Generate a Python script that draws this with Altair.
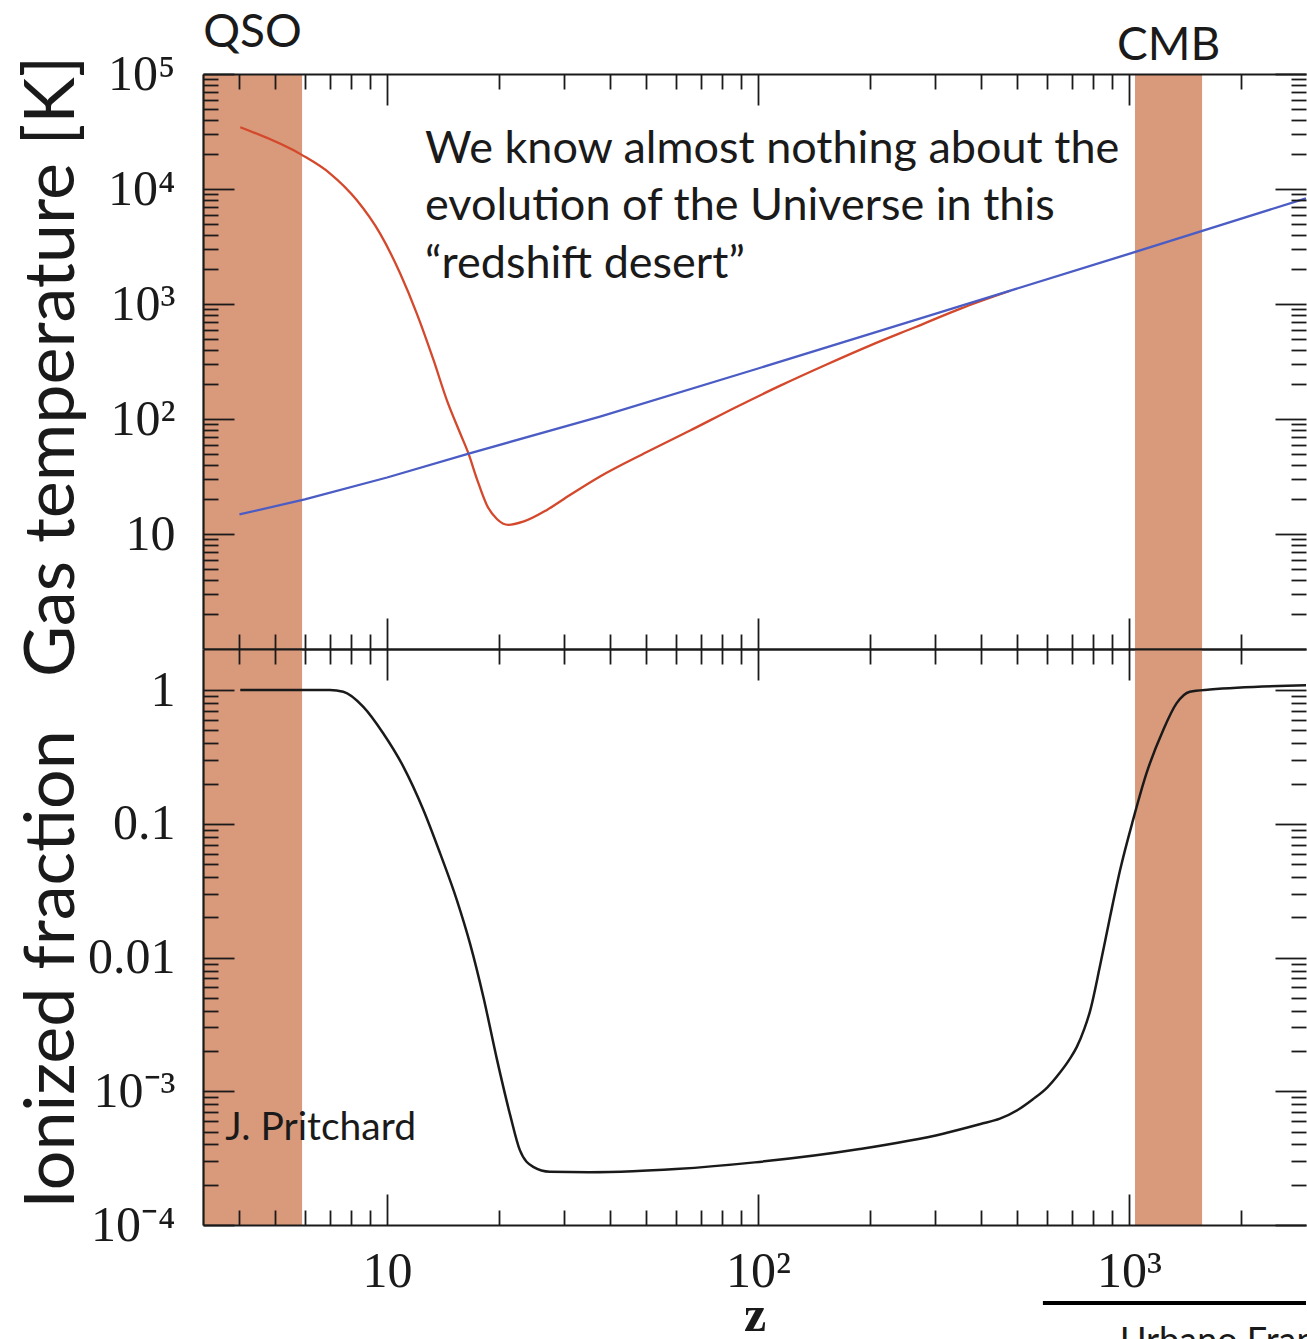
import altair as alt
import pandas as pd

# ---------------- data ----------------
band_label = ["QSO", "CMB"]
band_start = [3.19, 1038]
band_end = [5.9, 1574]

tgas_z = [4.02, 5.89, 7.01, 8.28, 9.57, 10.84, 12.02, 13.34, 14.49, 15.74, 16.56,
          17.46, 18.58, 19.77, 21.23, 23.28, 26.98, 31.12, 37.5, 50.0, 65.6, 86.9,
          114.8, 152, 200.9, 266, 351.6, 478.6]
tgas_T = [34400, 19800, 13700, 8020, 4110, 1850, 830, 326, 146, 75.2, 50.4,
          30.2, 17.8, 13.5, 12.0, 12.8, 16.2, 21.8, 31.6, 51.3, 79.4, 126,
          195, 295, 437, 631, 912, 1303]

tcmb_z = [4.0, 6.0, 10, 16.6, 37.5, 100, 300, 1000, 3000]
tcmb_T = [14.8, 20, 31, 50, 105, 275, 820, 2730, 8300]

xe_z = [4.02, 7.01, 7.62, 8.63, 9.77, 11.07, 12.53, 13.90, 15.42, 16.75, 18.20,
        19.77, 21.48, 22.80, 24.77, 27.48, 35.0, 46.0, 60.0, 97.9, 187.9, 315.5,
        398, 448.7, 501, 550.8, 602.6, 651.6, 691.8, 722.8, 758.6, 785.2, 835.6,
        889.2, 946.2, 1025.6, 1114.3, 1236, 1343, 1459, 1652, 3000]
xe_v = [1.0, 1.0, 0.973, 0.750, 0.474, 0.267, 0.127, 0.0601, 0.0269, 0.0126, 0.00501,
        0.00174, 0.000661, 0.000363, 0.000272, 0.000250, 0.000248, 0.000252, 0.000262,
        0.000294, 0.000370, 0.000482, 0.000569, 0.000624, 0.000724, 0.000871, 0.00107,
        0.00138, 0.00174, 0.00214, 0.00295, 0.00398, 0.00871,
        0.0202, 0.0451, 0.107, 0.238, 0.502, 0.796, 0.973, 1.01, 1.086]

x_major = [10, 100, 1000]
x_minor = [4, 5, 6, 7, 8, 9, 20, 30, 40, 50, 60, 70, 80, 90,
           200, 300, 400, 500, 600, 700, 800, 900, 2000]
t_major = [10, 100, 1000, 10000, 100000]
t_minor = [k * 10 ** e for e in range(0, 5) for k in range(2, 10)]
f_major = [0.0001, 0.001, 0.01, 0.1, 1]
f_minor = [k * 10.0 ** e for e in range(-4, 0) for k in range(2, 10)]

annotation_lines = ["We know almost nothing about the",
                    "evolution of the Universe in this",
                    "\u201credshift desert\u201d"]

# ---------------- tables ----------------
bands = pd.DataFrame({"label": band_label, "z0": band_start, "z1": band_end})
tgas = pd.DataFrame({"z": tgas_z, "T": tgas_T})
tcmb = pd.DataFrame({"z": tcmb_z, "T": tcmb_T})
xe = pd.DataFrame({"z": xe_z, "xe": xe_v})

BAND = "#d99a7b"
RED = "#d4482c"
BLUE = "#4b5cc4"
INK = "#1a1a1a"
MAJ, MIN = 31, 15

xs = alt.Scale(type="log", domain=[3.19, 3000], nice=False)
ts = alt.Scale(type="log", domain=[1, 100000], nice=False)
fs = alt.Scale(type="log", domain=[0.0001, 2.03], nice=False)

LABEL_STYLE = dict(labelFont="Liberation Serif", labelFontSize=50, labelColor=INK)


def ax(orient, values, size, **kw):
    """Inward-pointing ticks: the axis is shifted inside by its tick length."""
    opts = dict(orient=orient, values=values, tickSize=size, offset=-size,
                domain=False, grid=False, ticks=True, tickColor=INK, tickWidth=1.8,
                labels=False, title=None, zindex=1)
    opts.update(kw)
    return alt.Axis(**opts)


def frame(orient):
    """Frame edge drawn as an axis domain line (no right edge: it lies off the canvas)."""
    return alt.Axis(orient=orient, domain=True, domainColor=INK, domainWidth=2.2,
                    ticks=False, labels=False, grid=False, title=None, zindex=1)


W, H1, H2 = 1103, 575, 576

# ---------------- top panel: gas temperature ----------------
t_label = ("datum.value == 10 ? '10' : datum.value == 100 ? '10\u00b2' : "
           "datum.value == 1000 ? '10\u00b3' : datum.value == 10000 ? '10\u2074' : '10\u2075'")

top_band = alt.Chart(bands).mark_rect(color=BAND).encode(
    x=alt.X("z0:Q", scale=xs, axis=ax("bottom", x_major, MAJ)),
    x2="z1:Q",
)
top_red = alt.Chart(tgas).mark_line(color=RED, strokeWidth=2.3, interpolate="monotone").encode(
    x=alt.X("z:Q", scale=xs, axis=ax("bottom", x_minor, MIN)),
    y=alt.Y("T:Q", scale=ts, axis=ax(
        "left", t_major, MAJ, labels=True, labelPadding=28, labelExpr=t_label,
        title="Gas temperature [K]", titleFont="Lato", titleFontSize=70,
        titleFontWeight="normal", titleColor=INK, titleX=-161, titleY=292,
        titleBaseline="alphabetic", titleAlign="center", **LABEL_STYLE)),
)
top_blue = alt.Chart(tcmb).mark_line(color=BLUE, strokeWidth=2.3).encode(
    x=alt.X("z:Q", scale=xs, axis=ax("top", x_major, MAJ)),
    y=alt.Y("T:Q", scale=ts, axis=ax("left", t_minor, MIN)),
)
top_c1 = alt.Chart(tcmb).mark_line(opacity=0).encode(
    x=alt.X("z:Q", scale=xs, axis=ax("top", x_minor, MIN)),
    y=alt.Y("T:Q", scale=ts, axis=ax("right", t_major, MAJ)),
)
top_c2 = alt.Chart(tcmb).mark_line(opacity=0).encode(
    x=alt.X("z:Q", scale=xs, axis=frame("top")),
    y=alt.Y("T:Q", scale=ts, axis=ax("right", t_minor, MIN)),
)
top_c3 = alt.Chart(tcmb).mark_line(opacity=0).encode(
    x=alt.X("z:Q", scale=xs, axis=frame("bottom")),
    y=alt.Y("T:Q", scale=ts, axis=frame("left")),
)
ann = pd.DataFrame({"line": annotation_lines, "z": [12.66] * 3, "T": [16830, 5370, 1683]})
top_text = alt.Chart(ann).mark_text(align="left", baseline="alphabetic", font="Lato",
                                    fontSize=45, color=INK).encode(
    x=alt.X("z:Q", scale=xs, axis=None),
    y=alt.Y("T:Q", scale=ts, axis=None),
    text="line:N",
)
qso = alt.Chart(bands).transform_filter("datum.label == 'QSO'").transform_calculate(
    zc="sqrt(datum.z0 * datum.z1)").mark_text(
    align="center", baseline="alphabetic", font="Lato", fontSize=46, color=INK).encode(
    x=alt.X("zc:Q", scale=xs, axis=None), y=alt.value(-27), text="label:N")
cmb = alt.Chart(bands).transform_filter("datum.label == 'CMB'").transform_calculate(
    zc="sqrt(datum.z0 * datum.z1)").mark_text(
    align="center", baseline="alphabetic", font="Lato", fontSize=46, color=INK).encode(
    x=alt.X("zc:Q", scale=xs, axis=None), y=alt.value(-14), text="label:N")

top = alt.layer(top_band, top_red, top_blue, top_c1, top_c2, top_c3, top_text, qso, cmb
                ).resolve_axis(x="independent", y="independent").properties(width=W, height=H1)

# ---------------- bottom panel: ionized fraction ----------------
f_label = ("datum.value < 0.0005 ? '10\u207b\u2074' : datum.value < 0.005 ? '10\u207b\u00b3' : "
           "datum.value < 0.05 ? '0.01' : datum.value < 0.5 ? '0.1' : '1'")
x_label = "datum.value < 50 ? '10' : datum.value < 500 ? '10\u00b2' : '10\u00b3'"

bot_band = alt.Chart(bands).mark_rect(color=BAND).encode(
    x=alt.X("z0:Q", scale=xs, axis=ax(
        "bottom", x_major, MAJ, labels=True, labelPadding=21, labelExpr=x_label,
        title="z", titleFont="Liberation Serif", titleFontSize=50, titleFontWeight="bold",
        titleColor=INK, titleY=136, titleBaseline="alphabetic", **LABEL_STYLE)),
    x2="z1:Q",
)
bot_line = alt.Chart(xe).mark_line(color=INK, strokeWidth=2.5, interpolate="monotone").encode(
    x=alt.X("z:Q", scale=xs, axis=ax("bottom", x_minor, MIN)),
    y=alt.Y("xe:Q", scale=fs, axis=ax(
        "left", f_major, MAJ, labels=True, labelPadding=28, labelExpr=f_label,
        title="Ionized fraction", titleFont="Lato", titleFontSize=70,
        titleFontWeight="normal", titleColor=INK, titleX=-161, titleY=320,
        titleBaseline="alphabetic", titleAlign="center", **LABEL_STYLE)),
)
bot_c1 = alt.Chart(xe).mark_line(opacity=0).encode(
    x=alt.X("z:Q", scale=xs, axis=ax("top", x_major, MAJ)),
    y=alt.Y("xe:Q", scale=fs, axis=ax("left", f_minor, MIN)),
)
bot_c2 = alt.Chart(xe).mark_line(opacity=0).encode(
    x=alt.X("z:Q", scale=xs, axis=ax("top", x_minor, MIN)),
    y=alt.Y("xe:Q", scale=fs, axis=ax("right", f_major, MAJ)),
)
bot_c3 = alt.Chart(xe).mark_line(opacity=0).encode(
    x=alt.X("z:Q", scale=xs, axis=frame("top")),
    y=alt.Y("xe:Q", scale=fs, axis=ax("right", f_minor, MIN)),
)
bot_c4 = alt.Chart(xe).mark_line(opacity=0).encode(
    x=alt.X("z:Q", scale=xs, axis=frame("bottom")),
    y=alt.Y("xe:Q", scale=fs, axis=frame("left")),
)
credit = alt.Chart(pd.DataFrame({"t": ["J. Pritchard"], "z": [3.66], "xe": [0.00043]})).mark_text(
    align="left", baseline="alphabetic", font="Lato", fontSize=39, color=INK).encode(
    x=alt.X("z:Q", scale=xs, axis=None),
    y=alt.Y("xe:Q", scale=fs, axis=None),
    text="t:N",
)
deco = alt.Chart(pd.DataFrame({"z0": [586], "z1": [3000]})).mark_rule(
    color="black", strokeWidth=4).encode(
    x=alt.X("z0:Q", scale=xs, axis=None), x2="z1:Q", y=alt.value(654))
author = alt.Chart(pd.DataFrame({"t": ["Urbano Fran\u00e7a"], "z": [946]})).mark_text(
    align="left", baseline="alphabetic", font="Lato", fontSize=36, color=INK).encode(
    x=alt.X("z:Q", scale=xs, axis=None), y=alt.value(704), text="t:N")

bottom = alt.layer(bot_band, bot_line, bot_c1, bot_c2, bot_c3, bot_c4, credit, deco, author
                   ).resolve_axis(x="independent", y="independent").properties(width=W, height=H2)

# fixed 1307x1339 canvas: the plot origin sits at (203, 74); anything outside is clipped
chart = alt.vconcat(top, bottom, spacing=0, bounds="flush").properties(
    autosize=alt.AutoSizeParams(type="none"),
    padding={"left": 203, "top": 74, "right": 1, "bottom": 1265},
    background="white",
).configure_view(stroke="transparent", strokeWidth=0)

chart.save("out.html", embed_options={"renderer": "svg", "actions": False})
